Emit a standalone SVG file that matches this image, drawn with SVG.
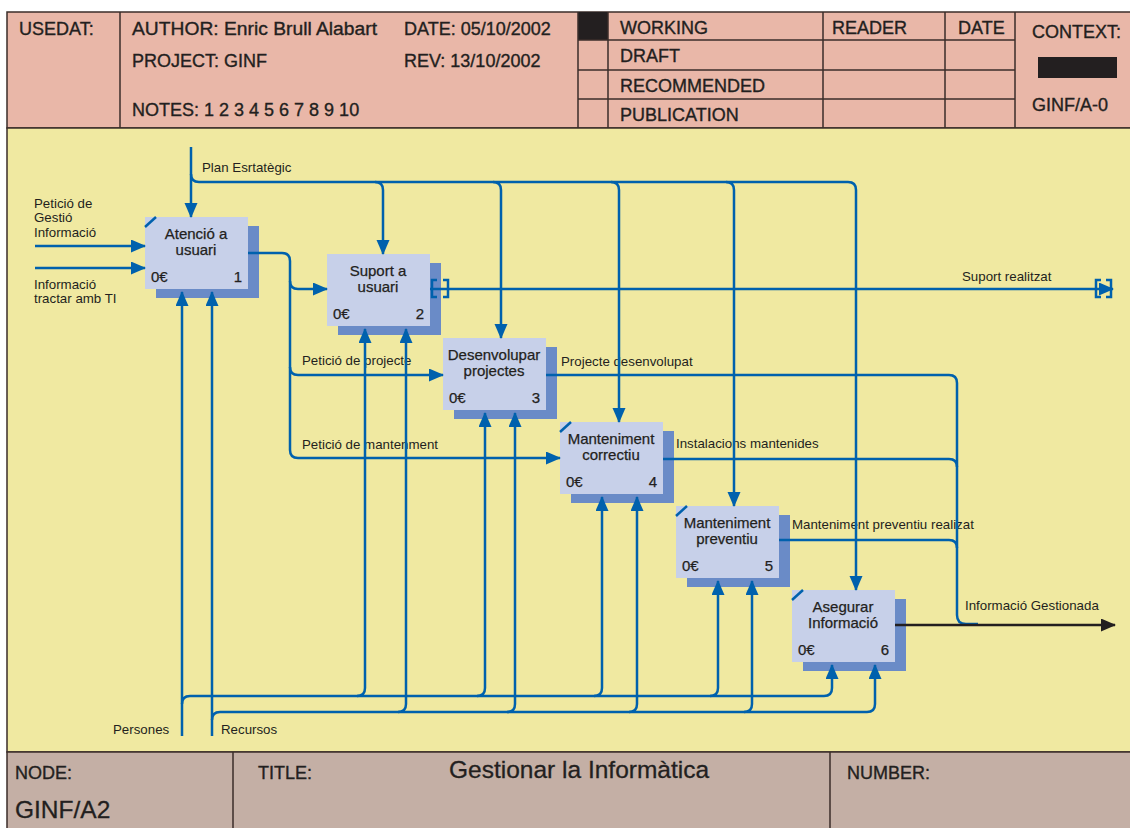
<svg xmlns="http://www.w3.org/2000/svg" width="1130" height="828" viewBox="0 0 1130 828">
<defs>
<marker id="ab" markerUnits="userSpaceOnUse" markerWidth="16" markerHeight="14" refX="14" refY="6.5" orient="auto"><path d="M0,0 L15,6.5 L0,13 z" fill="#0061AD"/></marker>
<marker id="ak" markerUnits="userSpaceOnUse" markerWidth="16" markerHeight="14" refX="14" refY="6.5" orient="auto"><path d="M0,0 L15,6.5 L0,13 z" fill="#231F20"/></marker>
<style>
.t{font-family:"Liberation Sans",Arial,sans-serif;fill:#231F20}
.h{font-size:18px;stroke:#231F20;stroke-width:0.35}
.big{font-size:24.5px;stroke:#231F20;stroke-width:0.3}
.lb{font-size:13.3px}
.bx{font-size:15px;stroke:#231F20;stroke-width:0.25}
.c{fill:none;stroke:#0061AD;stroke-width:2.5}
.k{fill:none;stroke:#231F20;stroke-width:2.5}
.fr{fill:#C7D0E9}
.sh{fill:#6A8BC7}
.tick{stroke:#0061AD;stroke-width:2.5}
.ln{stroke:#3B2E2A;stroke-width:1.5;fill:none}
.bd{stroke:#3B2E2A;stroke-width:1.5}
</style>
</defs>
<rect x="0" y="0" width="1130" height="828" fill="#FFFFFF"/>
<g id="header">
<rect x="7" y="12" width="1130" height="116" fill="#E9B7A8" class="bd"/>
<rect x="578" y="12" width="30" height="28" fill="#231F20"/>
<path class="ln" d="M120,12 V128 M578,12 V128 M608,12 V128 M823,12 V128 M945,12 V128 M1015,12 V128 M578,40 H1015 M578,70 H1015 M578,99 H1015"/>
<rect x="1038" y="57" width="79" height="21" fill="#231F20"/>
<text class="t h" x="19" y="35">USEDAT:</text>
<text class="t h" x="132" y="35" textLength="245" lengthAdjust="spacingAndGlyphs">AUTHOR: Enric Brull Alabart</text>
<text class="t h" x="404" y="35">DATE: 05/10/2002</text>
<text class="t h" x="132" y="67">PROJECT: GINF</text>
<text class="t h" x="404" y="67">REV: 13/10/2002</text>
<text class="t h" x="132" y="116">NOTES: 1 2 3 4 5 6 7 8 9 10</text>
<text class="t h" x="620" y="34">WORKING</text>
<text class="t h" x="620" y="62">DRAFT</text>
<text class="t h" x="620" y="92">RECOMMENDED</text>
<text class="t h" x="620" y="121">PUBLICATION</text>
<text class="t h" x="832" y="34">READER</text>
<text class="t h" x="958" y="34">DATE</text>
<text class="t h" x="1032" y="38">CONTEXT:</text>
<text class="t h" x="1032" y="111">GINF/A-0</text>
</g>
<rect x="7" y="128" width="1130" height="624" fill="#F0E9A1" class="bd"/>
<g id="footer">
<rect x="7" y="752" width="1130" height="80" fill="#C4AFA5" class="bd"/>
<path class="ln" d="M233,752 V828 M830,752 V828"/>
<text class="t h" x="15" y="779">NODE:</text>
<text class="t big" x="15" y="818">GINF/A2</text>
<text class="t h" x="258" y="779">TITLE:</text>
<text class="t big" x="449" y="778">Gestionar la Informàtica</text>
<text class="t h" x="847" y="779">NUMBER:</text>
</g>
<g id="box1">
<rect class="sh" x="156" y="226" width="103" height="72"/>
<rect class="fr" x="145" y="217" width="103" height="72"/>
<line class="tick" x1="145" y1="227" x2="156" y2="217"/>
<text class="t bx" x="196" y="239" text-anchor="middle">Atenció a</text>
<text class="t bx" x="196" y="255" text-anchor="middle">usuari</text>
<text class="t bx" x="151" y="282">0€</text>
<text class="t bx" x="242" y="282" text-anchor="end">1</text>
</g>
<g id="box2">
<rect class="sh" x="338" y="263" width="103" height="72"/>
<rect class="fr" x="327" y="254" width="103" height="72"/>
<text class="t bx" x="378" y="276" text-anchor="middle">Suport a</text>
<text class="t bx" x="378" y="292" text-anchor="middle">usuari</text>
<text class="t bx" x="333" y="319">0€</text>
<text class="t bx" x="424" y="319" text-anchor="end">2</text>
</g>
<g id="box3">
<rect class="sh" x="454" y="347" width="103" height="72"/>
<rect class="fr" x="443" y="338" width="103" height="72"/>
<text class="t bx" x="494" y="360" text-anchor="middle">Desenvolupar</text>
<text class="t bx" x="494" y="376" text-anchor="middle">projectes</text>
<text class="t bx" x="449" y="403">0€</text>
<text class="t bx" x="540" y="403" text-anchor="end">3</text>
</g>
<g id="box4">
<rect class="sh" x="571" y="431" width="103" height="72"/>
<rect class="fr" x="560" y="422" width="103" height="72"/>
<line class="tick" x1="560" y1="432" x2="571" y2="422"/>
<text class="t bx" x="611" y="444" text-anchor="middle">Manteniment</text>
<text class="t bx" x="611" y="460" text-anchor="middle">correctiu</text>
<text class="t bx" x="566" y="487">0€</text>
<text class="t bx" x="657" y="487" text-anchor="end">4</text>
</g>
<g id="box5">
<rect class="sh" x="687" y="515" width="103" height="72"/>
<rect class="fr" x="676" y="506" width="103" height="72"/>
<line class="tick" x1="676" y1="516" x2="687" y2="506"/>
<text class="t bx" x="727" y="528" text-anchor="middle">Manteniment</text>
<text class="t bx" x="727" y="544" text-anchor="middle">preventiu</text>
<text class="t bx" x="682" y="571">0€</text>
<text class="t bx" x="773" y="571" text-anchor="end">5</text>
</g>
<g id="box6">
<rect class="sh" x="803" y="599" width="103" height="72"/>
<rect class="fr" x="792" y="590" width="103" height="72"/>
<line class="tick" x1="792" y1="600" x2="803" y2="590"/>
<text class="t bx" x="843" y="612" text-anchor="middle">Asegurar</text>
<text class="t bx" x="843" y="628" text-anchor="middle">Informació</text>
<text class="t bx" x="798" y="655">0€</text>
<text class="t bx" x="889" y="655" text-anchor="end">6</text>
</g>
<g id="labels">
<text class="t lb" x="202" y="172">Plan Esrtatègic</text>
<text class="t lb" x="34" y="208">Petició de</text>
<text class="t lb" x="34" y="222">Gestió</text>
<text class="t lb" x="34" y="237">Informació</text>
<text class="t lb" x="34" y="289">Informació</text>
<text class="t lb" x="34" y="303">tractar amb TI</text>
<text class="t lb" x="302" y="365">Petició de projecte</text>
<text class="t lb" x="302" y="449">Petició de mantenment</text>
<text class="t lb" x="561" y="366">Projecte desenvolupat</text>
<text class="t lb" x="676" y="448">Instalacions mantenides</text>
<text class="t lb" x="792" y="529">Manteniment preventiu realizat</text>
<text class="t lb" x="962" y="281">Suport realitzat</text>
<text class="t lb" x="965" y="610">Informació Gestionada</text>
<text class="t lb" x="113" y="734">Persones</text>
<text class="t lb" x="221" y="734">Recursos</text>
</g>
<g id="connectors">
<path class="c" d="M191,147 V217" marker-end="url(#ab)"/>
<path class="c" d="M191,174 Q191,182 199,182 H848 Q856,182 856,190 V590" marker-end="url(#ab)"/>
<path class="c" d="M375,182 Q383,182 383,190 V254" marker-end="url(#ab)"/>
<path class="c" d="M493,182 Q501,182 501,190 V338" marker-end="url(#ab)"/>
<path class="c" d="M611,182 Q619,182 619,190 V422" marker-end="url(#ab)"/>
<path class="c" d="M726,182 Q734,182 734,190 V506" marker-end="url(#ab)"/>
<path class="c" d="M35,246 H145" marker-end="url(#ab)"/>
<path class="c" d="M35,268 H145" marker-end="url(#ab)"/>
<path class="c" d="M248,253 H282 Q290,253 290,261 V450 Q290,458 298,458 H560" marker-end="url(#ab)"/>
<path class="c" d="M290,281 Q290,289 298,289 H327" marker-end="url(#ab)"/>
<path class="c" d="M290,367 Q290,375 298,375 H443" marker-end="url(#ab)"/>
<path class="c" d="M430,289 H1113" marker-end="url(#ab)"/>
<path class="c" d="M437,280 H432 V297 H437 M443,280 H448 V297 H443"/>
<path class="c" d="M1101,280 H1096 V297 H1101 M1106,280 H1111 V297 H1106"/>
<path class="c" d="M546,375 H949 Q957,375 957,383 V615 Q957,624 966,624 H978"/>
<path class="c" d="M663,459 H949 Q957,459 957,467"/>
<path class="c" d="M779,540 H949 Q957,540 957,548"/>
<path class="k" d="M895,625 H1115" marker-end="url(#ak)"/>
<path class="c" d="M182,736 V292" marker-end="url(#ab)"/>
<path class="c" d="M212,736 V292" marker-end="url(#ab)"/>
<path class="c" d="M182,704 Q182,696 190,696 H824 Q832,696 832,688 V665" marker-end="url(#ab)"/>
<path class="c" d="M212,720 Q212,712 220,712 H867 Q875,712 875,704 V665" marker-end="url(#ab)"/>
<path class="c" d="M357,696 Q365,696 365,688 V329" marker-end="url(#ab)"/>
<path class="c" d="M477,696 Q485,696 485,688 V413" marker-end="url(#ab)"/>
<path class="c" d="M594,696 Q602,696 602,688 V497" marker-end="url(#ab)"/>
<path class="c" d="M710,696 Q718,696 718,688 V581" marker-end="url(#ab)"/>
<path class="c" d="M398,712 Q406,712 406,704 V329" marker-end="url(#ab)"/>
<path class="c" d="M507,712 Q515,712 515,704 V413" marker-end="url(#ab)"/>
<path class="c" d="M629,712 Q637,712 637,704 V497" marker-end="url(#ab)"/>
<path class="c" d="M744,712 Q752,712 752,704 V581" marker-end="url(#ab)"/>
</g>
</svg>
